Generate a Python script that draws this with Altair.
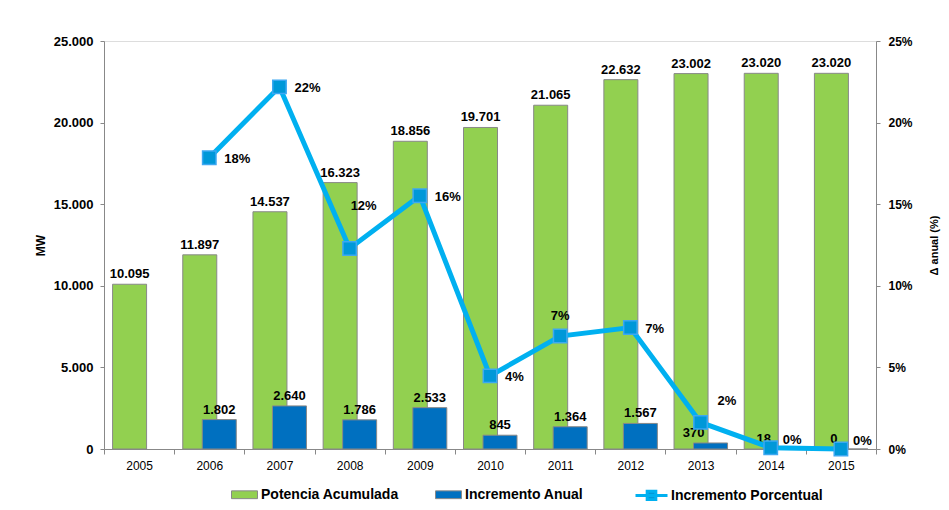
import altair as alt
import pandas as pd

years = ["2005", "2006", "2007", "2008", "2009", "2010", "2011", "2012", "2013", "2014", "2015"]
potencia = [10095, 11897, 14537, 16323, 18856, 19701, 21065, 22632, 23002, 23020, 23020]
incremento = [None, 1802, 2640, 1786, 2533, 845, 1364, 1567, 370, 18, 0]
pct_anual = [None, 17.85, 22.19, 12.29, 15.52, 4.48, 6.92, 7.44, 1.63, 0.08, 0.0]

series = ["Potencia Acumulada", "Incremento Anual", "Incremento Porcentual"]
colors = ["#92D050", "#0070C0", "#00B0F0"]

FONT = "Liberation Sans"

rows = []
for y, p in zip(years, potencia):
    rows.append({"year": y, "serie": series[0], "mw": p})
for y, v in zip(years, incremento):
    if v is not None:
        rows.append({"year": y, "serie": series[1], "mw": v})
bars_df = pd.DataFrame(rows)

line_df = pd.DataFrame({
    "year": [y for y, v in zip(years, pct_anual) if v is not None],
    "pct": [v / 100 for v in pct_anual if v is not None],
    "serie": series[2],
})

x_enc = alt.X("year:O", scale=alt.Scale(paddingInner=0, paddingOuter=0),
              axis=alt.Axis(title=None, labelAngle=0, tickBand="extent", tickSize=5,
                            labelFont=FONT, labelFontSize=12, labelColor="#000",
                            labelPadding=6, domainColor="#888", tickColor="#888"))
y_mw = alt.Y("mw:Q", scale=alt.Scale(domain=[0, 25000]),
             axis=alt.Axis(title="MW", values=[0, 5000, 10000, 15000, 20000, 25000], format=",d",
                           grid=False, tickSize=4, labelPadding=7,
                           labelFont=FONT, labelFontSize=13, labelFontWeight="bold", labelColor="#000",
                           titleFont=FONT, titleFontSize=12, titleFontWeight="bold", titleColor="#000",
                           titlePadding=6, domainColor="#888", tickColor="#888"))

bar_symbol = "M-1,-0.3H1V0.3H-1Z"
fill_enc = alt.Fill("serie:N", scale=alt.Scale(domain=series[:2], range=colors[:2]),
                    legend=alt.Legend(title=None, orient="none", legendX=127, legendY=440,
                                      direction="horizontal", symbolType=bar_symbol, symbolSize=676,
                                      symbolStrokeColor="#888", symbolStrokeWidth=1,
                                      labelFont=FONT, labelFontSize=14, labelFontWeight="bold",
                                      labelColor="#000", labelOffset=3, columnPadding=34))

base = alt.Chart(bars_df)
green = base.transform_filter(alt.datum.serie == series[0]).mark_bar(
    width=34, xOffset=-9.5, stroke="#888", strokeWidth=1).encode(x=x_enc, y=y_mw, fill=fill_enc)
blue = base.transform_filter(alt.datum.serie == series[1]).mark_bar(
    width=34, xOffset=10, stroke="#888", strokeWidth=1).encode(x=x_enc, y=y_mw, fill=fill_enc)

txt = dict(font=FONT, fontSize=13, fontWeight="bold", color="#000", baseline="alphabetic", dy=-6)
green_lbl = base.transform_filter(alt.datum.serie == series[0]).mark_text(dx=-9.5, **txt).encode(
    x=x_enc, y=y_mw, text=alt.Text("mw:Q", format=",d"))
blue_lbl = base.transform_filter(
    (alt.datum.serie == series[1]) & (alt.datum.year < "2013")).mark_text(dx=10, **txt).encode(
    x=x_enc, y=y_mw, text=alt.Text("mw:Q", format=",d"))
blue_lbl_small = base.transform_filter(
    (alt.datum.serie == series[1]) & (alt.datum.year >= "2013")).mark_text(dx=-7, **txt).encode(
    x=x_enc, y=y_mw, text=alt.Text("mw:Q", format=",d"))

left = alt.layer(green, blue, green_lbl, blue_lbl, blue_lbl_small)

y_pct = alt.Y("pct:Q", scale=alt.Scale(domain=[0, 0.25]),
              axis=alt.Axis(title="Δ anual (%)", orient="right", values=[0, 0.05, 0.10, 0.15, 0.20, 0.25],
                            format=".0%", grid=False, tickSize=4, labelPadding=8,
                            labelFont=FONT, labelFontSize=12, labelFontWeight="bold", labelColor="#000",
                            titleFont=FONT, titleFontSize=11, titleFontWeight="bold", titleColor="#000",
                            titleAngle=270, titlePadding=27, domainColor="#888", tickColor="#888"))

line_symbol = "M-1,0H1M-0.27,-0.27H0.27V0.27H-0.27Z"
stroke_enc = alt.Stroke("serie:N", scale=alt.Scale(domain=[series[2]], range=[colors[2]]),
                        legend=alt.Legend(title=None, orient="none", legendX=530, legendY=437,
                                          symbolType=line_symbol, symbolSize=1024, symbolStrokeWidth=3,
                                          symbolFillColor="#0098D8",
                                          labelFont=FONT, labelFontSize=14, labelFontWeight="bold",
                                          labelColor="#000", labelOffset=2))

lbase = alt.Chart(line_df)
line = lbase.mark_line(strokeWidth=5).encode(x=x_enc, y=y_pct, stroke=stroke_enc)
pts = lbase.mark_point(shape="square", filled=True, size=180, fill="#0098D8",
                       stroke="#3DA8F2", strokeWidth=1.5, opacity=1).encode(x=x_enc, y=y_pct)

ptxt = dict(font=FONT, fontSize=13, fontWeight="bold", color="#000", baseline="middle")


def pct_labels(yrs, **kw):
    return lbase.transform_filter(alt.FieldOneOfPredicate(field="year", oneOf=yrs)).mark_text(
        **ptxt, **kw).encode(x=x_enc, y=y_pct, text=alt.Text("pct:Q", format=".0%"))


lab_right = pct_labels(["2006", "2007", "2009", "2010", "2012"], align="left", dx=15, dy=1)
lab_2008 = pct_labels(["2008"], align="left", dx=1, dy=-42)
lab_2011 = pct_labels(["2011"], align="center", dx=0, dy=-20)
lab_2013 = pct_labels(["2013"], align="left", dx=17, dy=-21)
lab_low = pct_labels(["2014", "2015"], align="left", dx=12, dy=-8)

right = alt.layer(line, pts, lab_right, lab_2008, lab_2011, lab_2013, lab_low)

chart = alt.layer(left, right).resolve_scale(y="independent", fill="independent", stroke="independent").properties(
    width=772, height=408,
    padding={"left": 96, "top": 33, "right": 65, "bottom": 52},
    autosize=alt.AutoSizeParams(type="none"),
    background="white",
).configure_view(stroke=None).configure(
    locale=alt.Locale(number=alt.NumberLocale(decimal=",", thousands=".", grouping=[3], currency=["", "€"]))
)

chart.save("out.html", embed_options={"renderer": "svg", "actions": False})
